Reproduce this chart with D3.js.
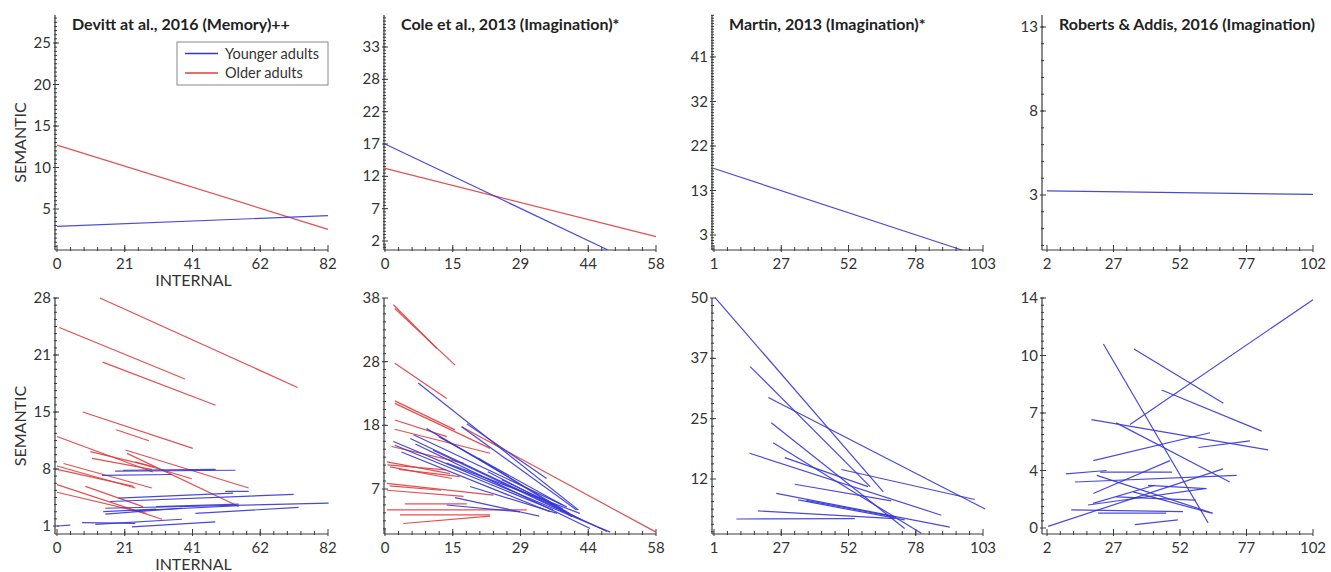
<!DOCTYPE html>
<html>
<head>
<meta charset="utf-8">
<script src="https://cdn.jsdelivr.net/npm/d3@7"></script>
<style>
  body { margin: 0; background: #fff; }
  svg { display: block; font-family: Lato, 'Open Sans', sans-serif; }
</style>
</head>
<body>
<div id="viz"></div>
<script>
'use strict';

// tick labels (evenly spaced between first and last, as printed)
const devittXTicks = ['0', '21', '41', '62', '82'];
const coleXTicks = ['0', '15', '29', '44', '58'];
const martinXTicks = ['1', '27', '52', '78', '103'];
const robertsXTicks = ['2', '27', '52', '77', '102'];

const devittFitYTicks = ['5', '10', '15', '20', '25'];
const coleFitYTicks = ['2', '7', '12', '17', '22', '28', '33'];
const martinFitYTicks = ['3', '13', '22', '32', '41'];
const robertsFitYTicks = ['3', '8', '13'];

const devittIndYTicks = ['1', '8', '15', '21', '28'];
const coleIndYTicks = ['7', '18', '28', '38'];
const martinIndYTicks = ['12', '25', '37', '50'];
const robertsIndYTicks = ['0', '4', '7', '10', '14'];

// group regression lines: [x1, y1, x2, y2] (INTERNAL, SEMANTIC)
const devittFitYoung = [0, 2.9, 82, 4.2];
const devittFitOlder = [0, 12.7, 82, 2.55];
const coleFitYoung = [0, 17.5, 47.6, 0.6];
const coleFitOlder = [0, 13.6, 58, 2.7];
const martinFitYoung = [1, 17.2, 95, -0.2];
const robertsFitYoung = [2, 3.24, 102, 3.04];

// individual participant lines
const devittIndOlder = [
  [13.0, 28.0, 72.8, 17.4], [0.7, 24.5, 38.7, 18.4], [13.8, 20.4, 48.0, 15.3],
  [7.8, 14.5, 41.1, 10.2], [17.9, 12.4, 27.8, 11.1], [0.0, 11.6, 29.0, 7.4],
  [10.1, 9.8, 29.3, 8.0], [10.6, 9.0, 28.7, 7.7], [20.7, 10.0, 58.0, 5.5],
  [21.2, 9.6, 55.0, 3.3], [23.7, 8.6, 40.8, 6.6], [0.0, 8.1, 23.7, 5.5],
  [0.0, 7.7, 23.2, 5.7], [2.0, 8.4, 28.7, 5.5], [8.6, 5.7, 26.0, 3.3],
  [0.0, 5.9, 31.8, 1.8], [0.0, 5.0, 27.0, 2.5]
];
const devittIndYoung = [
  [13.6, 7.0, 34.8, 7.1], [17.6, 7.5, 54.0, 7.6], [20.0, 7.6, 48.0, 7.7],
  [50.9, 5.1, 58.0, 5.1], [16.1, 3.9, 71.6, 4.75], [14.6, 3.1, 82.2, 3.7],
  [14.6, 2.4, 37.8, 3.1], [41.9, 2.5, 73.1, 3.2], [22.6, 2.8, 54.8, 3.4],
  [18.6, 4.3, 53.3, 4.9], [0.0, 1.0, 4.0, 1.1], [7.6, 1.4, 23.7, 1.3],
  [11.6, 1.2, 37.8, 1.8], [22.7, 0.9, 47.9, 1.5], [14.0, 2.7, 30.0, 3.0],
  [30.0, 3.3, 55.0, 3.6]
];

const coleIndOlder = [
  [2.1, 36.3, 15.0, 27.1], [1.8, 36.9, 11.1, 29.8], [2.1, 27.4, 13.2, 21.7],
  [2.1, 20.9, 22.5, 13.6], [2.1, 21.3, 15.0, 16.6], [16.4, 17.1, 58.0, 0.0],
  [2.1, 18.2, 13.2, 15.5], [2.1, 16.7, 22.5, 12.8], [1.4, 13.9, 16.8, 11.2],
  [0.4, 11.4, 13.9, 9.5], [0.5, 10.9, 13.0, 10.1], [1.1, 10.6, 14.3, 8.7],
  [3.0, 10.2, 16.0, 9.0], [0.4, 7.9, 23.2, 6.0], [0.4, 6.8, 16.8, 5.8],
  [1.0, 7.5, 12.0, 6.8], [4.3, 4.6, 17.5, 4.6], [0.4, 3.6, 30.3, 3.6],
  [3.2, 2.8, 22.5, 2.8], [3.9, 1.4, 22.5, 2.6]
];
const coleIndYoung = [
  [7.1, 24.2, 41.4, 3.6], [16.4, 17.1, 41.0, 3.6], [17.5, 17.6, 34.6, 8.7],
  [8.9, 16.8, 39.6, 3.0], [11.5, 15.5, 38.0, 4.4], [1.8, 14.7, 48.2, 0.0],
  [5.4, 15.2, 47.5, 0.1], [6.5, 14.3, 43.9, 0.6], [6.1, 15.8, 38.9, 4.1],
  [10.3, 13.3, 38.2, 3.3], [13.2, 11.2, 41.7, 3.05], [18.2, 7.4, 36.8, 3.05],
  [13.2, 4.4, 28.9, 3.3], [2.1, 14.1, 36.0, 3.6], [3.5, 13.0, 35.3, 3.3],
  [20.0, 12.0, 40.0, 2.5], [22.0, 9.8, 42.0, 2.0], [25.0, 8.5, 38.0, 3.8],
  [15.0, 5.6, 33.0, 2.6]
];

const martinIndYoung = [
  [1.4, 50.1, 65.2, 9.3], [14.7, 35.6, 60.2, 10.4], [21.6, 29.1, 103.8, 5.7],
  [22.7, 23.8, 73.3, 1.6], [23.4, 19.6, 79.6, 0.6], [14.5, 17.4, 87.2, 4.4],
  [27.8, 16.5, 59.4, 10.4], [49.3, 14.0, 99.9, 7.7], [31.6, 10.9, 68.2, 7.4],
  [24.6, 9.0, 90.4, 1.9], [32.9, 7.6, 73.3, 3.4], [17.7, 5.3, 69.5, 3.7],
  [9.5, 3.6, 54.4, 3.7], [36.0, 7.5, 70.0, 4.0]
];

const robertsIndYoung = [
  [33.2, 6.3, 102.0, 13.9], [23.2, 11.2, 62.6, 0.3], [34.7, 10.9, 68.3, 7.6],
  [45.1, 8.4, 82.7, 5.9], [18.7, 6.6, 85.1, 4.75], [28.0, 6.4, 70.7, 2.8],
  [19.4, 4.1, 63.3, 5.8], [58.9, 4.9, 78.3, 5.3], [9.1, 3.3, 24.4, 3.5],
  [12.5, 2.8, 73.3, 3.2], [19.4, 2.1, 48.2, 4.1], [20.7, 3.2, 64.4, 0.9],
  [22.0, 3.4, 49.0, 3.4], [2.4, 0.1, 68.2, 3.6], [17.4, 1.4, 61.3, 2.4],
  [19.3, 1.5, 42.5, 2.6], [35.0, 0.2, 51.2, 0.5], [21.2, 0.9, 46.8, 0.9],
  [11.1, 1.1, 53.1, 1.0], [34.4, 2.2, 63.9, 0.9], [40.0, 2.6, 62.0, 2.4],
  [28.0, 1.9, 58.0, 1.7]
];

const youngColor = '#3535d6';
const olderColor = '#e23c3c';

// layout of the 4x2 grid (pixels)
const cols = [
  {axis: 55, x0: 57, x1: 328},
  {axis: 384, x0: 385, x1: 656},
  {axis: 712, x0: 714, x1: 983},
  {axis: 1042, x0: 1047, x1: 1313}
];
const rows = [
  {axis: 250, top: 15},
  {axis: 534, top: 298}
];

const panels = [
  {col: 0, row: 0, title: 'Devitt at al., 2016 (Memory)++', xTicks: devittXTicks,
   yTicks: devittFitYTicks, yPx: [209, 43], yMinor: 10,
   young: [devittFitYoung], older: [devittFitOlder], labels: true, legend: true},
  {col: 1, row: 0, title: 'Cole et al., 2013 (Imagination)*', xTicks: coleXTicks,
   yTicks: coleFitYTicks, yPx: [241, 47], yMinor: 10,
   young: [coleFitYoung], older: [coleFitOlder]},
  {col: 2, row: 0, title: 'Martin, 2013 (Imagination)*', xTicks: martinXTicks,
   yTicks: martinFitYTicks, yPx: [235, 57], yMinor: 16,
   young: [martinFitYoung], older: []},
  {col: 3, row: 0, title: 'Roberts & Addis, 2016 (Imagination)', xTicks: robertsXTicks,
   yTicks: robertsFitYTicks, yPx: [195, 27], yMinor: 5,
   young: [robertsFitYoung], older: []},
  {col: 0, row: 1, xTicks: devittXTicks, yTicks: devittIndYTicks, yPx: [526, 298], yMinor: 8,
   young: devittIndYoung, older: devittIndOlder, labels: true},
  {col: 1, row: 1, xTicks: coleXTicks, yTicks: coleIndYTicks, yPx: [489, 298], yMinor: 8,
   young: coleIndYoung, older: coleIndOlder},
  {col: 2, row: 1, xTicks: martinXTicks, yTicks: martinIndYTicks, yPx: [479, 298], yMinor: 8,
   young: martinIndYoung, older: []},
  {col: 3, row: 1, xTicks: robertsXTicks, yTicks: robertsIndYTicks, yPx: [528, 298], yMinor: 8,
   young: robertsIndYoung, older: []}
];

const svg = d3.select('#viz')
  .append('svg')
    .attr('width', 1331)
    .attr('height', 572);

function linspace(a, b, n) {
  return d3.range(n).map(i => a + (b - a) * i / (n - 1));
}

function drawPanel(p) {
  const c = cols[p.col];
  const r = rows[p.row];
  const g = svg.append('g');

  const xf = +p.xTicks[0], xl = +p.xTicks[p.xTicks.length - 1];
  const yf = +p.yTicks[0], yl = +p.yTicks[p.yTicks.length - 1];

  const x = d3.scaleLinear().domain([xf, xl]).range([c.x0, c.x1]);
  const y = d3.scaleLinear().domain([yf, yl]).range(p.yPx);

  const xMajor = linspace(xf, xl, p.xTicks.length);
  const yMajor = linspace(yf, yl, p.yTicks.length);

  // minor ticks
  const xStep = (xMajor[1] - xMajor[0]) / 5;
  const xMinor = [];
  for (let v = xf - xStep; x(v) >= c.axis; v -= xStep) xMinor.push(v);
  for (let v = xf + xStep; v < xl - xStep / 2; v += xStep) xMinor.push(v);

  const yStep = (yMajor[1] - yMajor[0]) / p.yMinor;
  const yMinor = [];
  for (let v = yf - yStep; y(v) <= r.axis - 1; v -= yStep) yMinor.push(v);
  for (let v = yf + yStep; y(v) >= r.top; v += yStep) yMinor.push(v);

  const axisColor = '#3a3a3a';

  // axis lines
  g.append('line')
    .attr('x1', c.axis).attr('x2', c.x1)
    .attr('y1', r.axis).attr('y2', r.axis)
    .attr('stroke', axisColor).attr('stroke-width', 1.2);
  g.append('line')
    .attr('x1', c.axis).attr('x2', c.axis)
    .attr('y1', r.axis).attr('y2', r.top)
    .attr('stroke', axisColor).attr('stroke-width', 1.2);

  g.selectAll('.xminor').data(xMinor).join('line')
    .attr('x1', d => x(d)).attr('x2', d => x(d))
    .attr('y1', r.axis - 3).attr('y2', r.axis + 1)
    .attr('stroke', axisColor).attr('stroke-width', 1);
  g.selectAll('.xmajor').data(xMajor).join('line')
    .attr('x1', d => x(d)).attr('x2', d => x(d))
    .attr('y1', r.axis - 5).attr('y2', r.axis + 2)
    .attr('stroke', axisColor).attr('stroke-width', 1);

  g.selectAll('.yminor').data(yMinor).join('line')
    .attr('x1', c.axis - 1).attr('x2', c.axis + 2)
    .attr('y1', d => y(d)).attr('y2', d => y(d))
    .attr('stroke', axisColor).attr('stroke-width', 1);
  g.selectAll('.ymajor').data(yMajor).join('line')
    .attr('x1', c.axis - 2).attr('x2', c.axis + 4)
    .attr('y1', d => y(d)).attr('y2', d => y(d))
    .attr('stroke', axisColor).attr('stroke-width', 1);

  g.selectAll('.xlab').data(xMajor).join('text')
    .attr('x', d => x(d))
    .attr('y', r.axis + 19)
    .attr('text-anchor', 'middle')
    .attr('font-size', 15)
    .attr('fill', '#333')
    .text((d, i) => p.xTicks[i]);

  g.selectAll('.ylab').data(yMajor).join('text')
    .attr('x', c.axis - 4)
    .attr('y', d => y(d) + 5)
    .attr('text-anchor', 'end')
    .attr('font-size', 15)
    .attr('fill', '#333')
    .text((d, i) => p.yTicks[i]);

  const seg = (list, color) => {
    g.append('g').selectAll('line').data(list).join('line')
      .attr('x1', d => x(d[0])).attr('y1', d => y(d[1]))
      .attr('x2', d => x(d[2])).attr('y2', d => y(d[3]))
      .attr('stroke', color)
      .attr('stroke-width', 1.2)
      .attr('stroke-opacity', 0.9);
  };
  seg(p.older, olderColor);
  seg(p.young, youngColor);

  if (p.title) {
    g.append('text')
      .attr('x', c.axis + 17)
      .attr('y', r.top + 15)
      .attr('font-size', 16)
      .attr('font-weight', 'bold')
      .attr('fill', '#222')
      .text(p.title);
  }

  if (p.labels) {
    g.append('text')
      .attr('transform', `translate(26, ${(r.top + r.axis) / 2 + 10}) rotate(-90)`)
      .attr('text-anchor', 'middle')
      .attr('font-size', 16)
      .attr('fill', '#333')
      .text('SEMANTIC');
    g.append('text')
      .attr('x', (c.x0 + c.x1) / 2 + 1)
      .attr('y', r.axis + 36)
      .attr('text-anchor', 'middle')
      .attr('font-size', 16)
      .attr('fill', '#333')
      .text('INTERNAL');
  }

  if (p.legend) {
    const lg = g.append('g').attr('transform', 'translate(177, 42)');
    lg.append('rect')
      .attr('width', 151).attr('height', 43)
      .attr('fill', '#fff')
      .attr('stroke', '#888').attr('stroke-width', 1);
    const items = [['Younger adults', youngColor], ['Older adults', olderColor]];
    items.forEach(([name, color], i) => {
      lg.append('line')
        .attr('x1', 8).attr('x2', 41)
        .attr('y1', 11.5 + i * 19.5).attr('y2', 11.5 + i * 19.5)
        .attr('stroke', color).attr('stroke-width', 1.5);
      lg.append('text')
        .attr('x', 48).attr('y', 16.5 + i * 19.5)
        .attr('font-size', 14.5)
        .attr('fill', '#333')
        .text(name);
    });
  }
}

panels.forEach(drawPanel);
</script>
</body>
</html>
